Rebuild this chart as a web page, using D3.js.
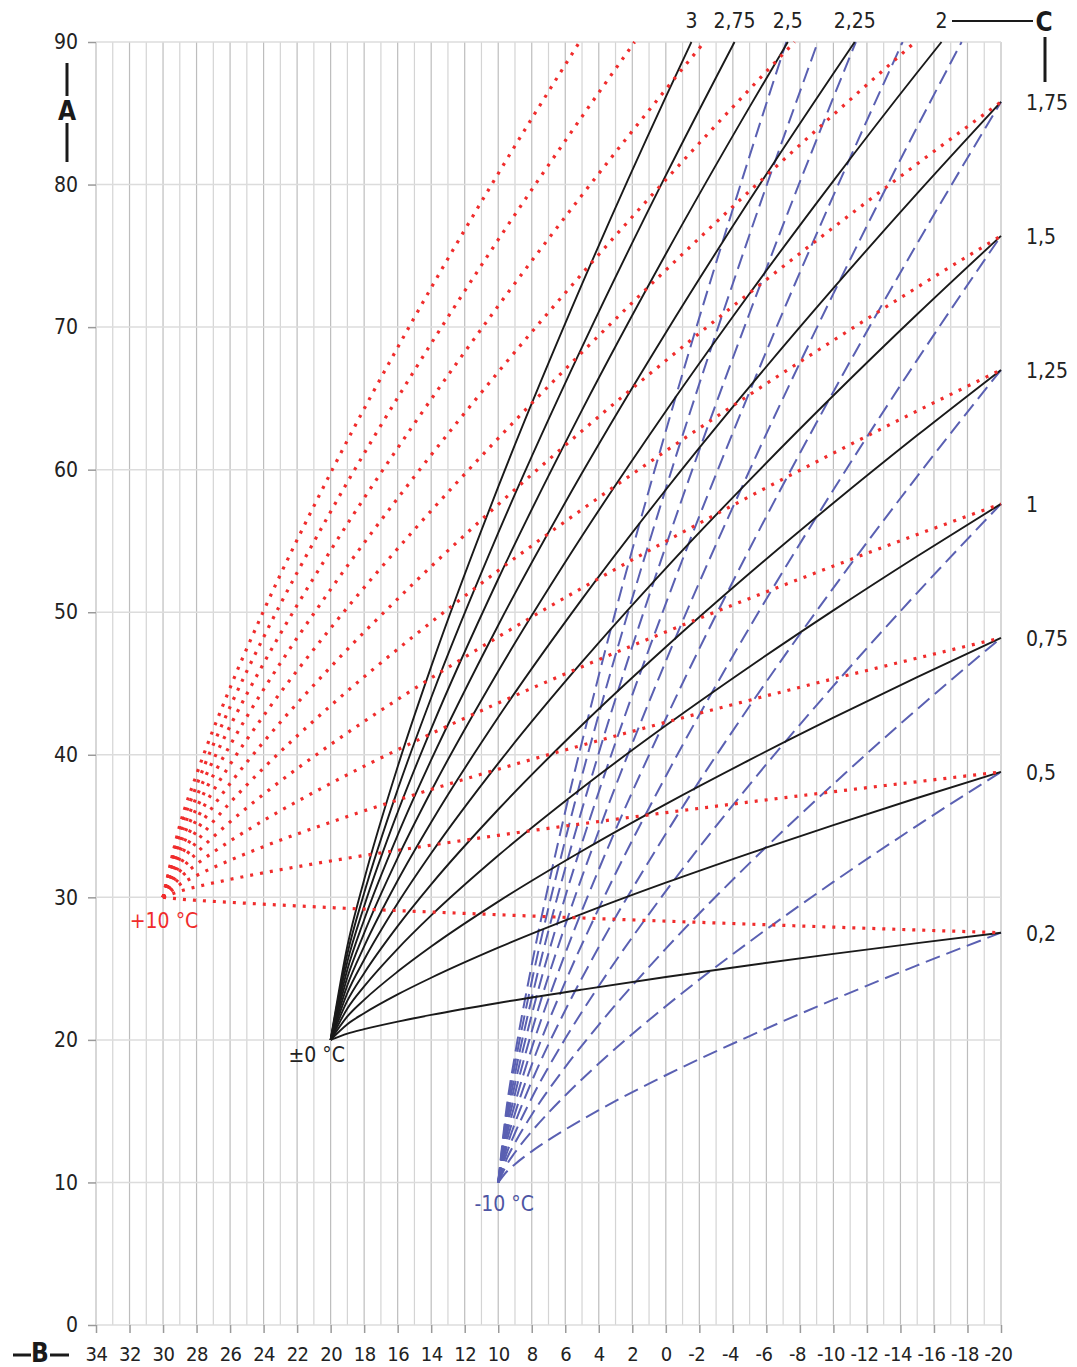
<!DOCTYPE html>
<html>
<head>
<meta charset="utf-8">
<script src="https://cdn.jsdelivr.net/npm/d3@7"></script>
<style>
  html, body { margin: 0; padding: 0; background: #fff; }
  svg text { font-family: "DejaVu Sans", sans-serif; font-stretch: condensed; }
</style>
</head>
<body>
<div id="chart"></div>
<script>
// C values (slope of the heating curve)
const slopeLabels = ["0,2", "0,5", "0,75", "1", "1,25", "1,5", "1,75", "2", "2,25", "2,5", "2,75", "3"];

// axis ticks
const outdoorTicks = [34, 32, 30, 28, 26, 24, 22, 20, 18, 16, 14, 12, 10, 8, 6, 4, 2, 0, -2, -4, -6, -8, -10, -12, -14, -16, -18, -20];
const flowTicks = [0, 10, 20, 30, 40, 50, 60, 70, 80, 90];

// ±0 °C family (black), flow temp read at these outdoor temps
const blackTemps = [20, 19, 18, 16, 14, 10, 5, 0, -5, -10, -15, -20];
const blackFlow = [
  [20, 20.44, 20.75, 21.28, 21.75, 22.59, 23.53, 24.41, 25.24, 26.03, 26.79, 27.52],
  [20, 21.10, 21.87, 23.19, 24.36, 26.47, 28.84, 31.03, 33.09, 35.07, 36.97, 38.80],
  [20, 21.65, 22.81, 24.79, 26.55, 29.70, 33.25, 36.54, 39.64, 42.60, 45.45, 48.20],
  [20, 22.20, 23.75, 26.39, 28.73, 32.93, 37.67, 42.05, 46.18, 50.13, 53.93, 57.60],
  [20, 22.75, 24.68, 27.98, 30.91, 36.16, 42.09, 47.56, 52.73, 57.66, 62.41, 67.00],
  [20, 23.30, 25.62, 29.58, 33.09, 39.40, 46.51, 53.08, 59.27, 65.20, 70.90, 76.40],
  [20, 23.84, 26.56, 31.18, 35.27, 42.63, 50.92, 58.59, 65.82, 72.73, 79.38, 85.80],
  [20, 24.39, 27.49, 32.77, 37.46, 45.86, 55.34, 64.10, 72.36, 80.26, 87.86, null],
  [20, 24.94, 28.43, 34.37, 39.64, 49.09, 59.76, 69.61, 78.91, 87.79, null, null],
  [20, 25.49, 29.37, 35.97, 41.82, 52.33, 64.18, 75.13, 85.45, null, null, null],
  [20, 26.04, 30.30, 37.56, 44.00, 55.56, 68.59, 80.64, null, null, null, null],
  [20, 26.59, 31.24, 39.16, 46.18, 58.79, 73.01, 86.15, null, null, null, null]
];
// outdoor temp where the curve leaves the top (90 °C)
const blackTopExit = [null, null, null, null, null, null, null, -16.45, -11.27, -7.28, -4.1, -1.53];

// +10 °C family (red dotted)
const redTemps = [30, 29, 28, 26, 24, 20, 15, 10, 5, 0, -5, -10, -15, -20];
const redFlow = [
  [30, 29.88, 29.79, 29.65, 29.52, 29.28, 29.02, 28.78, 28.55, 28.33, 28.12, 27.91, 27.71, 27.52],
  [30, 30.43, 30.74, 31.26, 31.72, 32.55, 33.48, 34.35, 35.16, 35.94, 36.69, 37.41, 38.11, 38.80],
  [30, 30.90, 31.53, 32.60, 33.56, 35.27, 37.20, 38.99, 40.67, 42.28, 43.83, 45.33, 46.78, 48.20],
  [30, 31.36, 32.32, 33.95, 35.39, 37.99, 40.92, 43.63, 46.18, 48.62, 50.97, 53.24, 55.45, 57.60],
  [30, 31.82, 33.10, 35.29, 37.23, 40.72, 44.64, 48.27, 51.70, 54.97, 58.12, 61.16, 64.12, 67.00],
  [30, 32.28, 33.89, 36.64, 39.07, 43.44, 48.36, 52.92, 57.21, 61.31, 65.26, 69.07, 72.79, 76.40],
  [30, 32.75, 34.68, 37.98, 40.90, 46.16, 52.08, 57.56, 62.72, 67.65, 72.40, 76.99, 81.45, 85.80],
  [30, 33.21, 35.47, 39.32, 42.74, 48.88, 55.80, 62.20, 68.23, 74.00, 79.55, 84.90, null, null],
  [30, 33.67, 36.26, 40.67, 44.58, 51.60, 59.52, 66.85, 73.75, 80.34, 86.69, null, null, null],
  [30, 34.13, 37.05, 42.01, 46.41, 54.33, 63.24, 71.49, 79.26, 86.68, null, null, null, null],
  [30, 34.60, 37.84, 43.36, 48.25, 57.05, 66.96, 76.13, 84.77, null, null, null, null, null],
  [30, 35.06, 38.62, 44.70, 50.09, 59.77, 70.68, 80.77, null, null, null, null, null, null]
];
const redTopExit = [null, null, null, null, null, null, null, -14.88, -7.68, -2.3, 1.86, 5.15];

// -10 °C family (blue dashed)
const blueTemps = [10, 9.5, 9, 8, 6, 4, 0, -5, -10, -15, -20];
const blueFlow = [
  [10, 10.75, 11.28, 12.18, 13.71, 15.07, 17.52, 20.27, 22.82, 25.23, 27.52],
  [10, 11.23, 12.10, 13.58, 16.10, 18.34, 22.36, 26.89, 31.08, 35.03, 38.80],
  [10, 11.63, 12.78, 14.75, 18.09, 21.06, 26.40, 32.40, 37.95, 43.20, 48.20],
  [10, 12.03, 13.47, 15.92, 20.09, 23.78, 30.43, 37.91, 44.83, 51.36, 57.60],
  [10, 12.43, 14.16, 17.09, 22.08, 26.51, 34.46, 43.42, 51.71, 59.53, 67.00],
  [10, 12.84, 14.84, 18.25, 24.07, 29.23, 38.50, 48.94, 58.59, 67.70, 76.40],
  [10, 13.24, 15.53, 19.42, 26.06, 31.95, 42.53, 54.45, 65.47, 75.87, 85.80],
  [10, 13.64, 16.21, 20.59, 28.05, 34.67, 46.57, 59.96, 72.35, 84.04, null],
  [10, 14.04, 16.90, 21.76, 30.05, 37.40, 50.60, 65.47, 79.23, null, null],
  [10, 14.44, 17.58, 22.93, 32.04, 40.12, 54.64, 70.99, 86.11, null, null],
  [10, 14.84, 18.27, 24.10, 34.03, 42.84, 58.67, 76.50, null, null, null],
  [10, 15.24, 18.95, 25.26, 36.02, 45.56, 62.71, 82.01, null, null, null]
];
const blueTopExit = [null, null, null, null, null, null, null, -17.65, -14.13, -11.34, -9.07, -7.19];

const width = 1077;
const height = 1367;
const margin = { top: 42, right: 76, bottom: 42, left: 96 };

const svg = d3
  .select("#chart")
  .append("svg")
  .attr("width", width)
  .attr("height", height);

const xScale = d3.scaleLinear().domain([34, -20]).range([margin.left, width - margin.right]);
const yScale = d3.scaleLinear().domain([0, 90]).range([height - margin.bottom, margin.top]);

const x0 = xScale(34), x1 = xScale(-20);
const y0 = yScale(0), y1 = yScale(90);

// Grid
const grid = svg.append("g");
grid
  .selectAll("line.v")
  .data(d3.range(-20, 35))
  .enter()
  .append("line")
  .attr("x1", (d) => xScale(d))
  .attr("x2", (d) => xScale(d))
  .attr("y1", y1)
  .attr("y2", y0)
  .attr("stroke", (d) => (d % 2 === 0 ? "#bdbdbd" : "#d4d4d4"))
  .attr("stroke-width", 1.2);

grid
  .selectAll("line.h")
  .data(flowTicks)
  .enter()
  .append("line")
  .attr("x1", x0)
  .attr("x2", x1)
  .attr("y1", (d) => yScale(d))
  .attr("y2", (d) => yScale(d))
  .attr("stroke", "#dcdcdc")
  .attr("stroke-width", 1.5);

// Axes (plain hyphen for negatives, like the print)
const yAxis = d3.axisLeft(yScale).tickValues(flowTicks).tickSize(8).tickPadding(10);
const yG = svg.append("g").attr("transform", `translate(${x0},0)`).call(yAxis);

const xAxis = d3
  .axisBottom(xScale)
  .tickValues(outdoorTicks)
  .tickSize(8)
  .tickFormat((d) => String(d));
const xG = svg.append("g").attr("transform", `translate(0,${y0})`).call(xAxis);

[yG, xG].forEach((g) => {
  g.select(".domain").remove();
  g.selectAll(".tick line").attr("stroke", "#9a9a9a").attr("stroke-width", 1.5);
  g.selectAll(".tick text").attr("fill", "#222").style("font-size", "21px");
});
xG.selectAll(".tick text")
  .attr("y", 36)
  .attr("dy", 0)
  .attr("dx", (d) => (d < 0 ? -3 : 0))
  .style("font-size", "20px")
  .style("letter-spacing", "-0.5px");

// Curves
const line = d3
  .line()
  .x((d) => xScale(d[0]))
  .y((d) => yScale(d[1]))
  .curve(d3.curveMonotoneX);

function curvePoints(temps, row, exit) {
  const pts = [];
  row.forEach((v, i) => {
    if (v !== null) pts.push([temps[i], v]);
  });
  if (exit !== null) pts.push([exit, 90]);
  return pts;
}

const curves = svg.append("g");

curves
  .selectAll("path.blue")
  .data(blueFlow.map((row, i) => curvePoints(blueTemps, row, blueTopExit[i])))
  .enter()
  .append("path")
  .attr("d", line)
  .attr("fill", "none")
  .attr("stroke", "#5a60b2")
  .attr("stroke-width", 2)
  .attr("stroke-dasharray", "15,7");

curves
  .selectAll("path.black")
  .data(blackFlow.map((row, i) => curvePoints(blackTemps, row, blackTopExit[i])))
  .enter()
  .append("path")
  .attr("d", line)
  .attr("fill", "none")
  .attr("stroke", "#1a1a1a")
  .attr("stroke-width", 1.9);

curves
  .selectAll("path.red")
  .data(redFlow.map((row, i) => curvePoints(redTemps, row, redTopExit[i])))
  .enter()
  .append("path")
  .attr("d", line)
  .attr("fill", "none")
  .attr("stroke", "#f02c2c")
  .attr("stroke-width", 3.2)
  .attr("stroke-dasharray", "3,7");

// Slope labels (C)
const labels = svg.append("g").style("font-size", "21px").attr("fill", "#222");
slopeLabels.forEach((s, i) => {
  if (blackTopExit[i] !== null) {
    labels
      .append("text")
      .attr("x", xScale(blackTopExit[i]))
      .attr("y", 21)
      .attr("dy", "0.35em")
      .attr("text-anchor", "middle")
      .text(s);
  } else {
    const row = blackFlow[i];
    labels
      .append("text")
      .attr("x", x1 + 25)
      .attr("y", yScale(row[row.length - 1]) + 1)
      .attr("dy", "0.35em")
      .text(s);
  }
});

// Origin labels
svg.append("text")
  .attr("x", xScale(30) + 1)
  .attr("y", yScale(30) + 23)
  .attr("dy", "0.35em")
  .attr("text-anchor", "middle")
  .attr("fill", "#f02c2c")
  .style("font-size", "21px")
  .text("+10 °C");

svg.append("text")
  .attr("x", xScale(20) - 14)
  .attr("y", yScale(20) + 15)
  .attr("dy", "0.35em")
  .attr("text-anchor", "middle")
  .attr("fill", "#222")
  .style("font-size", "21px")
  .text("±0 °C");

svg.append("text")
  .attr("x", xScale(10) + 6)
  .attr("y", yScale(10) + 21)
  .attr("dy", "0.35em")
  .attr("text-anchor", "middle")
  .attr("fill", "#4e55a3")
  .style("font-size", "21px")
  .text("-10 °C");

// Axis letters A, B, C with their rules
const marks = svg.append("g").attr("stroke", "#1a1a1a").attr("stroke-width", 3);
marks.append("line").attr("x1", 67).attr("x2", 67).attr("y1", 63).attr("y2", 96);
marks.append("line").attr("x1", 67).attr("x2", 67).attr("y1", 123).attr("y2", 162);
marks.append("line").attr("x1", 13).attr("x2", 31).attr("y1", 1355).attr("y2", 1355);
marks.append("line").attr("x1", 50).attr("x2", 69).attr("y1", 1355).attr("y2", 1355);
marks.append("line").attr("x1", 952).attr("x2", 1033).attr("y1", 21).attr("y2", 21).attr("stroke-width", 2);
marks.append("line").attr("x1", 1045).attr("x2", 1045).attr("y1", 37).attr("y2", 82);

const letters = svg.append("g")
  .attr("fill", "#1a1a1a")
  .attr("text-anchor", "middle")
  .style("font-size", "26px")
  .style("font-weight", "bold");
letters.append("text").attr("x", 67).attr("y", 111).attr("dy", "0.35em").text("A");
letters.append("text").attr("x", 40).attr("y", 1353).attr("dy", "0.35em").text("B");
letters.append("text").attr("x", 1044).attr("y", 22).attr("dy", "0.35em").text("C");
</script>
</body>
</html>
